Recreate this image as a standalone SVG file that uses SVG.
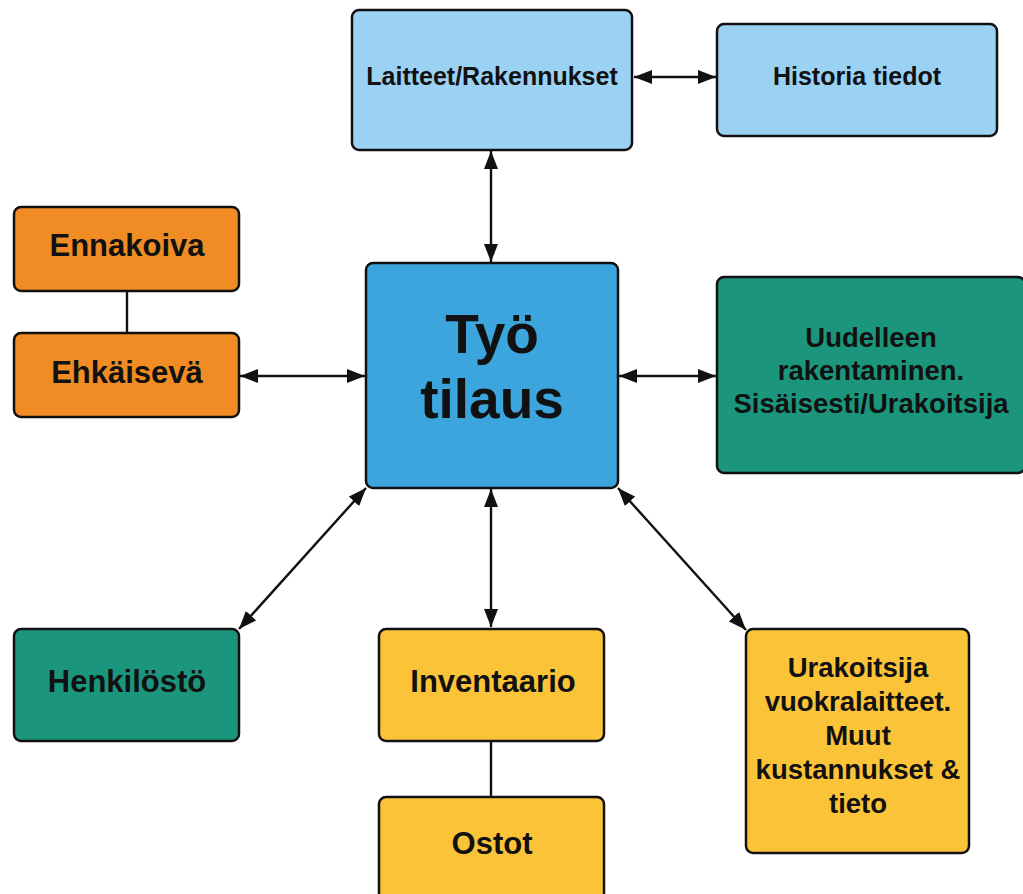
<svg xmlns="http://www.w3.org/2000/svg" width="1023" height="894" viewBox="0 0 1023 894">
  <style>
    .box { stroke: #111; stroke-width: 2.5; }
    .lblue { fill: #9bd2f3; }
    .blue { fill: #3ca5de; }
    .orange { fill: #f08c23; }
    .teal { fill: #1b967c; }
    .yellow { fill: #fbc338; }
    .lbl { font-family: "Liberation Sans", Arial, sans-serif; font-weight: bold; fill: #111; text-anchor: middle; }
    .conn { stroke: #111; stroke-width: 2.4; fill: none; }
  </style>
  <defs>
    <marker id="arrow" viewBox="0 0 18 14" markerWidth="18" markerHeight="14" refX="18" refY="7" orient="auto-start-reverse" markerUnits="userSpaceOnUse">
      <path d="M0,0 L18,7 L0,14 z" fill="#111"/>
    </marker>
  </defs>

  <rect width="1023" height="894" fill="#ffffff"/>

  <!-- connectors -->
  <g id="connectors">
    <line class="conn" x1="634" y1="77" x2="716" y2="77" marker-start="url(#arrow)" marker-end="url(#arrow)"/>
    <line class="conn" x1="491" y1="151" x2="491" y2="262" marker-start="url(#arrow)" marker-end="url(#arrow)"/>
    <line class="conn" x1="127" y1="291" x2="127" y2="333"/>
    <line class="conn" x1="240" y1="376" x2="365" y2="376" marker-start="url(#arrow)" marker-end="url(#arrow)"/>
    <line class="conn" x1="619" y1="376" x2="716" y2="376" marker-start="url(#arrow)" marker-end="url(#arrow)"/>
    <line class="conn" x1="366" y1="488" x2="239" y2="629" marker-start="url(#arrow)" marker-end="url(#arrow)"/>
    <line class="conn" x1="491" y1="489" x2="491" y2="627" marker-start="url(#arrow)" marker-end="url(#arrow)"/>
    <line class="conn" x1="618" y1="488" x2="746" y2="630" marker-start="url(#arrow)" marker-end="url(#arrow)"/>
    <line class="conn" x1="491" y1="742" x2="491" y2="797"/>
  </g>

  <g id="laitteet">
    <rect class="box lblue" x="352" y="10" width="280" height="140" rx="7"/>
    <text class="lbl" x="492" y="85" font-size="25">Laitteet/Rakennukset</text>
  </g>

  <g id="historia">
    <rect class="box lblue" x="717" y="24" width="280" height="112" rx="7"/>
    <text class="lbl" x="857" y="85" font-size="25">Historia tiedot</text>
  </g>

  <g id="ennakoiva">
    <rect class="box orange" x="14" y="207" width="225" height="84" rx="7"/>
    <text class="lbl" x="127" y="256" font-size="31">Ennakoiva</text>
  </g>

  <g id="ehkaiseva">
    <rect class="box orange" x="14" y="333" width="225" height="84" rx="7"/>
    <text class="lbl" x="127" y="383" font-size="31">Ehkäisevä</text>
  </g>

  <g id="tyotilaus">
    <rect class="box blue" x="366" y="263" width="252" height="225" rx="7"/>
    <text class="lbl" x="492" y="353" font-size="55">Työ</text>
    <text class="lbl" x="492" y="418" font-size="55">tilaus</text>
  </g>

  <g id="uudelleen">
    <rect class="box teal" x="717" y="277" width="308" height="196" rx="7"/>
    <text class="lbl" x="871" y="347" font-size="27.5">Uudelleen</text>
    <text class="lbl" x="871" y="380" font-size="27.5">rakentaminen.</text>
    <text class="lbl" x="871" y="413" font-size="27.5">Sisäisesti/Urakoitsija</text>
  </g>

  <g id="henkilosto">
    <rect class="box teal" x="14" y="629" width="225" height="112" rx="7"/>
    <text class="lbl" x="127" y="692" font-size="31">Henkilöstö</text>
  </g>

  <g id="inventaario">
    <rect class="box yellow" x="379" y="629" width="225" height="112" rx="7"/>
    <text class="lbl" x="493" y="692" font-size="31">Inventaario</text>
  </g>

  <g id="ostot">
    <rect class="box yellow" x="379" y="797" width="225" height="110" rx="7"/>
    <text class="lbl" x="492" y="854" font-size="31">Ostot</text>
  </g>

  <g id="urakoitsija">
    <rect class="box yellow" x="746" y="629" width="223" height="224" rx="7"/>
    <text class="lbl" x="858" y="677" font-size="27.5">Urakoitsija</text>
    <text class="lbl" x="858" y="711" font-size="27.5">vuokralaitteet.</text>
    <text class="lbl" x="858" y="745" font-size="27.5">Muut</text>
    <text class="lbl" x="858" y="779" font-size="27.5">kustannukset &amp;</text>
    <text class="lbl" x="858" y="813" font-size="27.5">tieto</text>
  </g>
</svg>
